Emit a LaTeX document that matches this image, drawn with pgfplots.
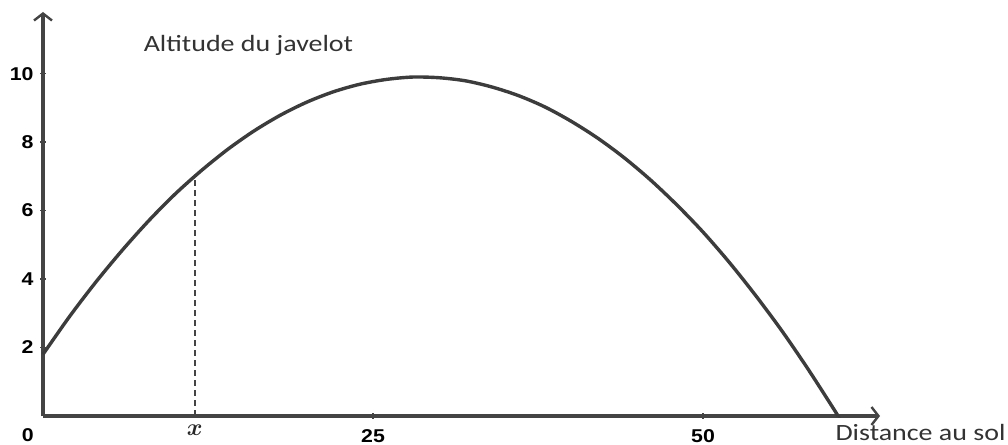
\documentclass[border=0pt]{standalone}
\usepackage{fontspec}
\setmainfont{Liberation Sans}[FakeStretch=1.15]
\newfontfamily\lab[FakeStretch=1.2]{Carlito}
\usepackage{pgfplots}
\pgfplotsset{compat=1.18}
\usetikzlibrary{arrows.meta}
\definecolor{curve}{HTML}{3C3C3C}
\definecolor{axe}{HTML}{444444}
\begin{document}
\begin{tikzpicture}
\begin{axis}[
    scale only axis,
    width=418.5bp, height=202bp,
    xmin=0, xmax=63.4,
    ymin=0, ymax=11.8,
    axis lines=left,
    axis line style={draw=axe, line width=1.6bp,
        -{Straight Barb[length=3.5bp, width=9bp, line width=1.2bp]}},
    xtick={25,50},
    ytick={2,4,6,8,10},
    tick align=center,
    major tick length=2.5bp,
    tick style={axe, line width=0.8bp},
    /pgf/number format/assume math mode=true,
    ticklabel style={font=\fontsize{9.3}{10}\selectfont\bfseries, black},
    xticklabel style={yshift=-2bp},
    clip=false,
]
% trajectoire du javelot
\addplot[curve, line width=1.7bp, smooth] coordinates {
    (0,1.80) (2,2.90) (4,3.91) (6,4.84) (8,5.70) (10,6.48) (12,7.17)
    (14,7.79) (16,8.33) (18,8.79) (20,9.17) (22,9.47) (24,9.69) (26,9.83)
    (28,9.90) (30,9.88) (32,9.79) (34,9.61) (36,9.36) (38,9.03) (40,8.61)
    (42,8.12) (44,7.55) (46,6.90) (48,6.17) (50,5.37) (52,4.48) (54,3.51)
    (56,2.47) (58,1.34) (60,0.14) (60.2,0)
};
% repere en x
\addplot[axe, line width=1bp, dash pattern=on 3bp off 2bp] coordinates {(11.5,0) (11.5,7.0)};
\node[anchor=base west, font=\lab\fontsize{11.7}{13}\selectfont, text=black!80]
    at (axis cs:7.1,10.64) {Altitude du javelot};
\node[anchor=base west, font=\lab\fontsize{11.7}{13}\selectfont, text=black!80, inner sep=0pt]
    at (axis cs:60,-0.73) {Distance au sol};
\node[font=\fontsize{9.3}{10}\selectfont\bfseries] at (axis cs:-1.15,-0.55) {0};
\node[font=\fontsize{13}{14}\selectfont\boldmath, text=black!85] at (axis cs:11.5,-0.4) {$x$};
\end{axis}
\pgfresetboundingbox
\path (-21.5bp,-14.5bp) rectangle (482.5bp,208bp);
\end{tikzpicture}
\end{document}
